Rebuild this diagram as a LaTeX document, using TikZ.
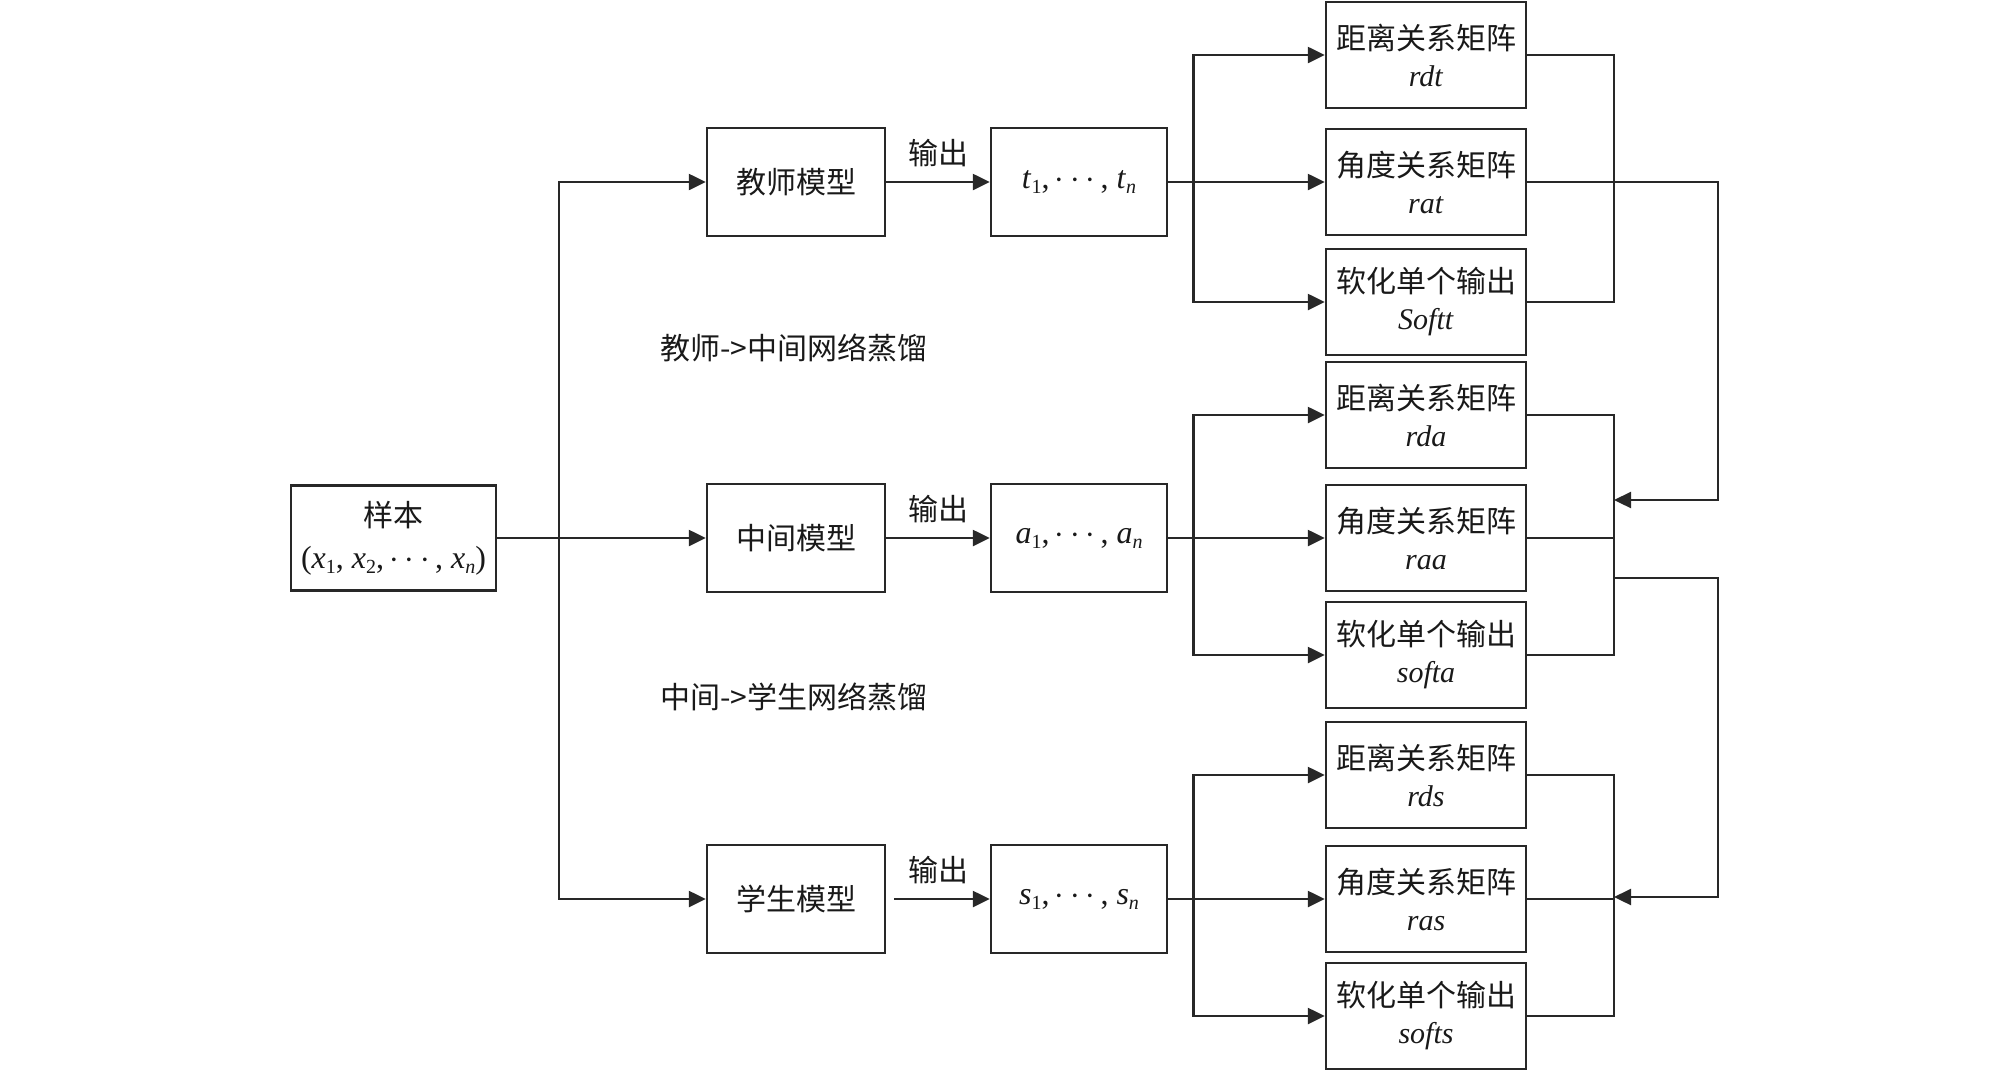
\documentclass[tikz,border=0pt]{standalone}
\usepackage{fontspec}
\setmainfont{Liberation Serif}
\newfontfamily\cjk{Noto Sans CJK SC}
\usetikzlibrary{arrows.meta}
\definecolor{lc}{RGB}{40,40,40}
\newcommand\mysub[1]{\raisebox{-0.35ex}{\fontsize{10}{10}\selectfont #1}}
\newcommand\mydots{\,$\cdots$\,}
\tikzset{
  lnk/.style={draw=lc, line width=1.2pt},
  arr/.style={lnk, -{Triangle[length=8.5pt,width=8pt]}},
  bx/.style={draw=lc, line width=1.2pt, inner sep=0pt, align=center,
    font=\fontsize{15}{18.5}\selectfont, text=black!90},
  mbox/.style={bx, minimum width=89pt, minimum height=54pt},
  obox/.style={bx, minimum width=88pt, minimum height=54pt, font=\fontsize{16}{18.5}\selectfont},
  rbox/.style={bx, minimum width=100pt, minimum height=53pt},
  lbl/.style={font=\fontsize{15}{18}\selectfont\cjk, text=black!90, inner sep=1pt},
}
\begin{document}
\begin{tikzpicture}[x=0.5pt,y=-0.5pt]
\useasboundingbox (0,0) rectangle (2008,1072);
% input
\node[bx, minimum width=102.5pt, minimum height=52.5pt, font=\fontsize{15}{21}\selectfont] (sample) at (393.5,538) {{\cjk 样本}\\{\fontsize{16}{21}\selectfont(\textit{x}\mysub{1}, \textit{x}\mysub{2},\mydots, \textit{x}\mysub{\textit{n}})}};
% models
\node[mbox] (tm) at (796,182) {\cjk 教师模型};
\node[mbox] (im) at (796,538) {\cjk 中间模型};
\node[mbox] (sm) at (796,899) {\cjk 学生模型};
% outputs
\node[obox] (to) at (1079,182) {\textit{t}\mysub{1},\mydots, \textit{t}\mysub{\textit{n}}};
\node[obox] (io) at (1079,538) {\textit{a}\mysub{1},\mydots, \textit{a}\mysub{\textit{n}}};
\node[obox] (so) at (1079,899) {\textit{s}\mysub{1},\mydots, \textit{s}\mysub{\textit{n}}};
% relation boxes
\node[rbox] (rdt) at (1426,55) {{\cjk 距离关系矩阵}\\\textit{rdt}};
\node[rbox] (rat) at (1426,182) {{\cjk 角度关系矩阵}\\\textit{rat}};
\node[rbox] (softt) at (1426,302) {{\cjk 软化单个输出}\\\textit{Softt}};
\node[rbox] (rda) at (1426,415) {{\cjk 距离关系矩阵}\\\textit{rda}};
\node[rbox] (raa) at (1426,538) {{\cjk 角度关系矩阵}\\\textit{raa}};
\node[rbox] (softa) at (1426,655) {{\cjk 软化单个输出}\\\textit{softa}};
\node[rbox] (rds) at (1426,775) {{\cjk 距离关系矩阵}\\\textit{rds}};
\node[rbox] (ras) at (1426,899) {{\cjk 角度关系矩阵}\\\textit{ras}};
\node[rbox] (softs) at (1426,1016) {{\cjk 软化单个输出}\\\textit{softs}};
% labels
\node[lbl, anchor=west] (l1) at (658,348) {教师->中间网络蒸馏};
\node[lbl, anchor=west] (l2) at (658,697) {中间->学生网络蒸馏};
% helper coordinates
\coordinate (tk) at (559,538);
\coordinate (bx) at (1193.5,0);
\coordinate (cx) at (1614,0);
\coordinate (rx) at (1718,0);
\coordinate (am) at (1614,500);
\coordinate (om) at (1614,578);
\coordinate (ab) at (1614,897);
% input to models
\draw[arr] (sample.east) -- (im.west);
\draw[arr] (tk) |- (tm.west);
\draw[arr] (tk) |- (sm.west);
% models to outputs
\draw[arr] (tm.east) -- node[lbl, above=6pt] (o1) {输出} (to.west);
\draw[arr] (im.east) -- node[lbl, above=6pt] (o2) {输出} (io.west);
\draw[arr, shorten <=4pt] (sm.east) -- node[lbl, above=6pt] (o3) {输出} (so.west);
% outputs to relation boxes
\draw[arr] (to.east) -- (rat.west);
\draw[arr] (to.east -| bx) |- (rdt.west);
\draw[arr] (to.east -| bx) |- (softt.west);
\draw[arr] (io.east) -- (raa.west);
\draw[arr] (io.east -| bx) |- (rda.west);
\draw[arr] (io.east -| bx) |- (softa.west);
\draw[arr] (so.east) -- (ras.west);
\draw[arr] (so.east -| bx) |- (rds.west);
\draw[arr] (so.east -| bx) |- (softs.west);
% collectors
\draw[lnk] (rdt.east) -- (rdt.east -| cx) -- (softt.east -| cx) -- (softt.east);
\draw[lnk] (rda.east) -- (rda.east -| cx) -- (softa.east -| cx) -- (softa.east);
\draw[lnk] (raa.east) -- (raa.east -| cx);
\draw[lnk] (rds.east) -- (rds.east -| cx) -- (softs.east -| cx) -- (softs.east);
\draw[lnk] (ras.east) -- (ras.east -| cx);
% feedback links
\draw[arr] (rat.east) -- (rat.east -| rx) -- (rx |- am) -- (am);
\draw[arr] (om) -- (om -| rx) -- (rx |- ab) -- (ab);
\end{tikzpicture}
\end{document}
